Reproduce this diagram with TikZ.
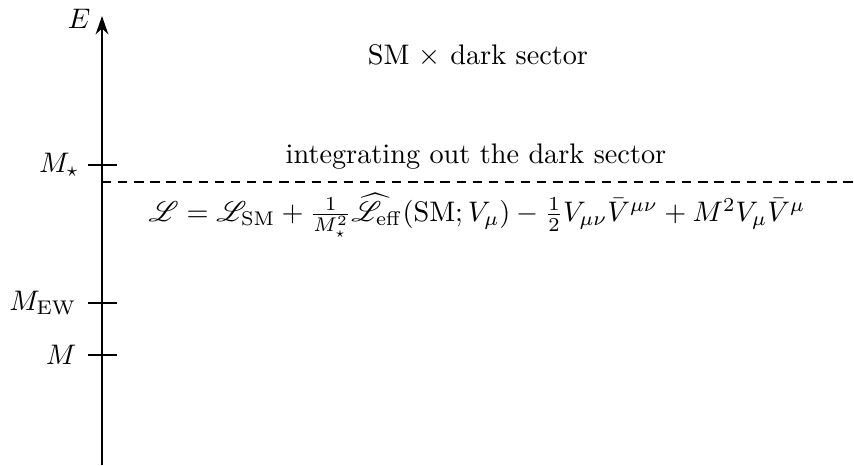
\documentclass[tikz,border=0pt]{standalone}
\usepackage{amsmath,amssymb,mathrsfs}
\usetikzlibrary{arrows.meta}
\begin{document}
\begin{tikzpicture}[x=0.3537pt,y=-0.3537pt,
  axisline/.style={line width=0.75pt},
  tick/.style={line width=0.75pt},
  lab/.style={inner sep=0pt}]
\useasboundingbox (0,0) rectangle (854,465);
\coordinate (bot) at (102,465);
\coordinate (top) at (102,16);
\draw[axisline,-{Stealth[length=6.5pt,width=4.5pt]}] (bot) -- (top);
\node[lab,anchor=east] (E) at (91,19) {$E$};
% ticks
\coordinate (t1l) at (88,165); \coordinate (t1r) at (117,165);
\coordinate (t2l) at (88,303); \coordinate (t2r) at (117,303);
\coordinate (t3l) at (88,355); \coordinate (t3r) at (117,355);
\draw[tick] (t1l) -- (t1r);
\draw[tick] (t2l) -- (t2r);
\draw[tick] (t3l) -- (t3r);
\node[lab,anchor=east] (Ms) at (80,165) {$M_\star$};
\node[lab,anchor=east] (Mew) at (77,303) {$M_{\mathrm{EW}}$};
\node[lab,anchor=east] (M) at (77,355) {$M$};
\coordinate (d0) at (102,182); \coordinate (d1) at (854,182);
\draw[dashed,line width=0.5pt,dash pattern=on 3.3pt off 2.4pt] (d0) -- (d1);
\node[lab] (sm) at (478,56) {SM $\times$ dark sector};
\node[lab] (int) at (476,157) {integrating out the dark sector};
\node[lab] (lag) at (477,215) {$\mathscr{L}=\mathscr{L}_{\mathrm{SM}}+\frac{1}{M_\star^2}\widehat{\mathscr{L}}_{\mathrm{eff}}(\mathrm{SM};V_\mu)-\frac12 V_{\mu\nu}\bar V^{\mu\nu}+M^2V_\mu\bar V^\mu$};
\end{tikzpicture}
\end{document}
